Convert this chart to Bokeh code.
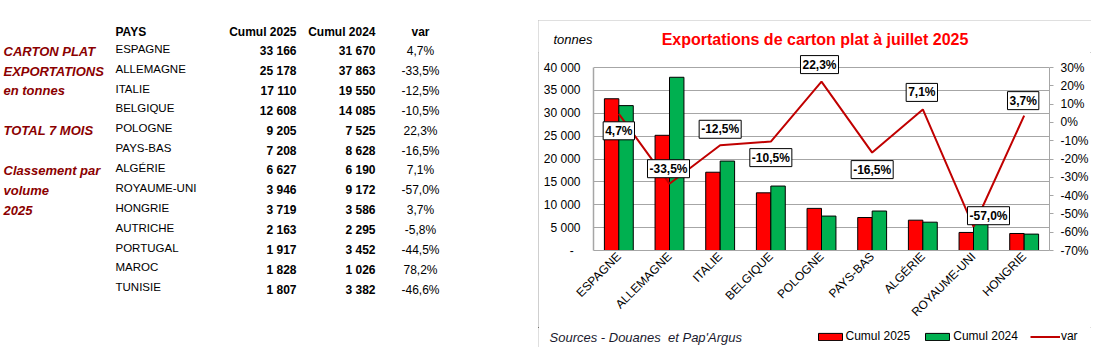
import math
from bokeh.plotting import figure
from bokeh.models import (ColumnDataSource, Range1d, FactorRange, LinearAxis, FixedTicker,
                          NumeralTickFormatter, Legend, LegendItem, Spacer, Plot)
from bokeh.layouts import row, column
from bokeh.transform import dodge
from bokeh.core.properties import value
from bokeh.embed import file_html
from bokeh.resources import INLINE

# ---------------- data ----------------
countries = ["ESPAGNE", "ALLEMAGNE", "ITALIE", "BELGIQUE", "POLOGNE", "PAYS-BAS", "ALGÉRIE",
             "ROYAUME-UNI", "HONGRIE", "AUTRICHE", "PORTUGAL", "MAROC", "TUNISIE"]
cumul_2025 = [33166, 25178, 17110, 12608, 9205, 7208, 6627, 3946, 3719, 2163, 1917, 1828, 1807]
cumul_2024 = [31670, 37863, 19550, 14085, 7525, 8628, 6190, 9172, 3586, 2295, 3452, 1026, 3382]
var_pct = [4.7, -33.5, -12.5, -10.5, 22.3, -16.5, 7.1, -57.0, 3.7, -5.8, -44.5, 78.2, -46.6]
side_notes = ["CARTON PLAT", "EXPORTATIONS", "en tonnes", "TOTAL 7 MOIS", "Classement par", "volume", "2025"]
side_rows = [0, 1, 2, 4, 6, 7, 8]
table_headers = ["PAYS", "Cumul 2025", "Cumul 2024", "var"]
series_names = ["Cumul 2025", "Cumul 2024", "var"]
chart_title = "Exportations de carton plat à juillet 2025"
unit_label = "tonnes"
source_note = "Sources - Douanes\u00a0 et Pap'Argus"
n_chart = 9
y_ticks = [0, 5000, 10000, 15000, 20000, 25000, 30000, 35000, 40000]
pct_ticks = [-0.7, -0.6, -0.5, -0.4, -0.3, -0.2, -0.1, 0.0, 0.1, 0.2, 0.3]

FONT = "Liberation Sans"
RED_NOTE = "#8B0000"
GRID = "#A6A6A6"
C25, C24, CVAR = "#FF0000", "#00B050", "#C00000"
HAS_FRAME_ALIGN = "frame_align" in Plot.properties()


def fmt_num(v):
    return f"{v:,}".replace(",", " ")


def fmt_pct(v):
    return f"{v:.1f}%".replace(".", ",")


def unalign(fig):
    if HAS_FRAME_ALIGN:
        fig.frame_align = False
    return fig


def bare(w, h):
    fig = figure(width=w, height=h, x_range=Range1d(0, w), y_range=Range1d(h, 0),
                 output_backend="svg", toolbar_location=None, min_border=0,
                 x_axis_location=None, y_axis_location=None)
    fig.grid.visible = False
    fig.outline_line_color = None
    fig.background_fill_color = "white"
    fig.border_fill_color = "white"
    return unalign(fig)


# ---------------- left table ----------------
TW, TH = 538, 348
t = bare(TW, TH)

ROW0, STEP = 50.7, 19.87
n = len(countries)
y_num = [ROW0 + STEP * i for i in range(n)]
y_name = [y - 2.4 for y in y_num]
HEAD_Y = 31.7
X_NAME, X_C25, X_C24, X_VAR, X_NOTE = 115, 296, 375, 420, 3

common = dict(text_font=value(FONT), text_baseline="middle", text_color="black")
t.text(x=[X_NAME], y=[HEAD_Y], text=[table_headers[0]], text_align="left",
       text_font_size="12px", text_font_style="bold", **common)
t.text(x=[X_C25, X_C24], y=[HEAD_Y, HEAD_Y], text=table_headers[1:3], text_align="right",
       text_font_size="12px", text_font_style="bold", **common)
t.text(x=[X_VAR], y=[HEAD_Y], text=[table_headers[3]], text_align="center",
       text_font_size="12px", text_font_style="bold", **common)
t.text(x=[X_NAME] * n, y=y_name, text=countries, text_align="left", text_font_size="11.5px", **common)
t.text(x=[X_C25] * n, y=y_num, text=[fmt_num(v) for v in cumul_2025], text_align="right",
       text_font_size="12px", text_font_style="bold", **common)
t.text(x=[X_C24] * n, y=y_num, text=[fmt_num(v) for v in cumul_2024], text_align="right",
       text_font_size="12px", text_font_style="bold", **common)
t.text(x=[X_VAR] * n, y=y_num, text=[fmt_pct(v) for v in var_pct], text_align="center",
       text_font_size="12px", **common)
t.text(x=[X_NOTE] * len(side_notes), y=[y_num[r] for r in side_rows], text=side_notes,
       text_align="left", text_baseline="middle", text_font=value(FONT), text_font_size="13px",
       text_font_style="bold italic", text_color=RED_NOTE)

# ---------------- chart header (title + unit) ----------------
CW = 553
TOP_GAP = 20
HDR_H = 32
hdr = bare(CW, HDR_H)
hdr.text(x=[276.5], y=[19], text=[chart_title], text_align="center", text_baseline="middle",
         text_font=value(FONT), text_font_size="16px", text_font_style="bold", text_color="#FF0000")
hdr.text(x=[15], y=[18.5], text=[unit_label], text_align="left", text_baseline="middle",
         text_font=value(FONT), text_font_size="13px", text_font_style="italic", text_color="black")

# ---------------- chart ----------------
CH_H = 275
FOOT_H = 20
DATA_PX = 183          # pixel height of the 0..40 000 span
EXTRA_PX = 15          # free space above the top gridline (room for the labels)
Y_TOP = 40000 * (DATA_PX + EXTRA_PX) / DATA_PX
P_TOP = -0.7 + 1.0 * (DATA_PX + EXTRA_PX) / DATA_PX

cats = countries[:n_chart]
label_dx = [0, -1, 0, 0, -2, 0, -1, 15, -1]
label_dy = [17, -15, -16, 16, -17, 17, -17, -11, -15]
src = ColumnDataSource(dict(
    cat=cats,
    c25=cumul_2025[:n_chart],
    c24=cumul_2024[:n_chart],
    var=[v / 100 for v in var_pct[:n_chart]],
    lbl=[fmt_pct(v) for v in var_pct[:n_chart]],
    dx=label_dx,
    dy=label_dy,
))

p = figure(width=CW, height=CH_H, x_range=FactorRange(*cats), y_range=Range1d(0, Y_TOP),
           output_backend="svg", toolbar_location=None,
           min_border_left=55, min_border_right=42, min_border_top=0,
           min_border_bottom=CH_H - DATA_PX - EXTRA_PX)
unalign(p)
p.background_fill_color = "white"
p.border_fill_color = "white"
p.outline_line_color = None
p.xgrid.grid_line_color = None
p.ygrid.grid_line_color = GRID

p.extra_y_ranges = {"pct": Range1d(-0.7, P_TOP)}

BW = 0.285
p.vbar(x=dodge("cat", -BW / 2, range=p.x_range), top="c25", width=BW, source=src,
       fill_color=C25, line_color="black", line_width=1)
p.vbar(x=dodge("cat", BW / 2, range=p.x_range), top="c24", width=BW, source=src,
       fill_color=C24, line_color="black", line_width=1)
p.line(x="cat", y="var", source=src, y_range_name="pct", line_color=CVAR, line_width=2)
p.text(x="cat", y="var", text="lbl", source=src, y_range_name="pct", x_offset="dx", y_offset="dy",
       text_align="center", text_baseline="middle", text_font=value(FONT), text_font_size="12px",
       text_font_style="bold", text_color="black", background_fill_color="white",
       border_line_color="black", border_line_width=1, padding=2)

# left axis
ya = p.yaxis[0]
ya.ticker = FixedTicker(ticks=y_ticks)
ya.bounds = (0, 40000)
ya.major_label_overrides = {v: (fmt_num(v) if v else "-\u00a0\u00a0") for v in y_ticks}
ya.axis_line_color = GRID
ya.axis_line_width = 1.5
ya.major_tick_out = 0
ya.major_tick_in = 0
ya.minor_tick_out = 0
ya.minor_tick_in = 0
ya.major_label_standoff = 13
ya.major_label_text_font = FONT
ya.major_label_text_font_size = "12px"
ya.major_label_text_color = "black"

# right axis
ra = LinearAxis(y_range_name="pct", ticker=FixedTicker(ticks=pct_ticks),
                formatter=NumeralTickFormatter(format="0%"), bounds=(-0.7, 0.3))
ra.axis_line_color = GRID
ra.major_tick_line_color = GRID
ra.major_tick_out = 4
ra.major_tick_in = 0
ra.minor_tick_out = 0
ra.minor_tick_in = 0
ra.major_label_standoff = 7
ra.major_label_text_font = FONT
ra.major_label_text_font_size = "12px"
ra.major_label_text_color = "black"
p.add_layout(ra, "right")

# bottom axis
xa = p.xaxis[0]
xa.major_label_orientation = math.pi / 4
xa.axis_line_color = GRID
xa.major_tick_out = 0
xa.major_tick_in = 0
xa.major_label_standoff = 4
xa.major_label_text_font = FONT
xa.major_label_text_font_size = "12px"
xa.major_label_text_color = "black"

# ---------------- footer: source note + legend ----------------
ftr = bare(CW, FOOT_H)
ftr.text(x=[11], y=[9.7], text=[source_note], text_align="left", text_baseline="middle",
         text_font=value(FONT), text_font_size="13px", text_font_style="italic",
         text_color="#1A1A2E")
# legend keys: same styling as the chart series (single hidden sample outside the footer view)
k25 = ftr.vbar(x=[-50], top=[-50], bottom=[-60], width=1, fill_color=C25, line_color="black", line_width=1)
k24 = ftr.vbar(x=[-50], top=[-50], bottom=[-60], width=1, fill_color=C24, line_color="black", line_width=1)
kvar = ftr.line(x=[-60, -50], y=[-50, -50], line_color=CVAR, line_width=2)
legend = Legend(items=[LegendItem(label=series_names[0], renderers=[k25]),
                       LegendItem(label=series_names[1], renderers=[k24]),
                       LegendItem(label=series_names[2], renderers=[kvar])],
                orientation="horizontal", location=(276.5, 4))
legend.label_text_font = FONT
legend.label_text_font_size = "12px"
legend.label_text_color = "black"
legend.glyph_width = 30
legend.glyph_height = 9
legend.label_standoff = 1
legend.spacing = 12
legend.padding = 0
legend.margin = 0
legend.label_height = 14
legend.border_line_color = None
legend.background_fill_alpha = 0
ftr.add_layout(legend)

box = column(hdr, p, ftr, styles={"outline": "1px solid #BFBFBF", "outline-offset": "-1px"})
right = column(Spacer(width=CW, height=TOP_GAP), box)
layout = row(t, right)
open("out.html", "w").write(file_html(layout, INLINE))
